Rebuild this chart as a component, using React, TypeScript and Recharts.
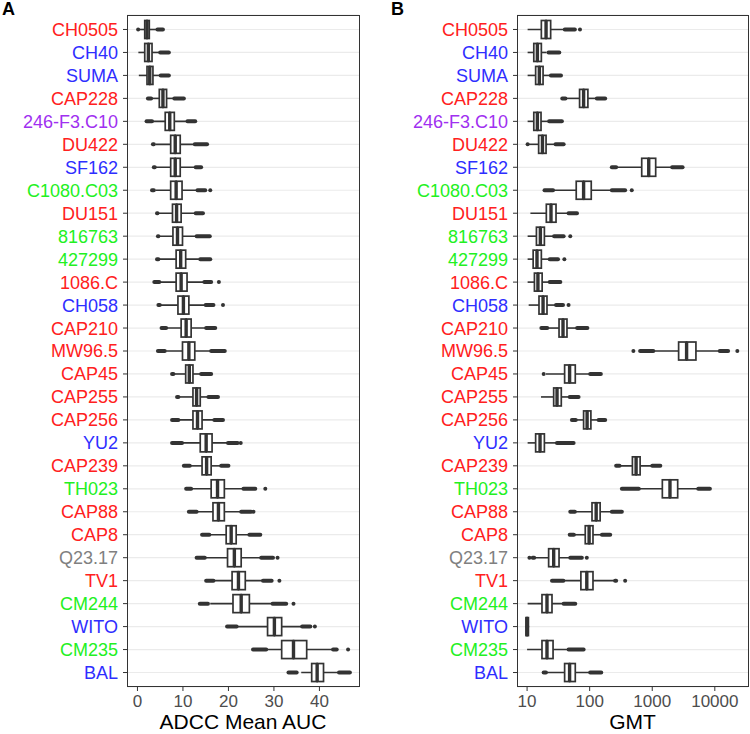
import React from 'react';
import { ComposedChart, Bar, XAxis, YAxis, CartesianGrid } from 'recharts';

// ---------- categories ----------
const names = [
  'CH0505', 'CH40', 'SUMA', 'CAP228', '246-F3.C10', 'DU422', 'SF162', 'C1080.C03', 'DU151', '816763',
  '427299', '1086.C', 'CH058', 'CAP210', 'MW96.5', 'CAP45', 'CAP255', 'CAP256', 'YU2', 'CAP239',
  'TH023', 'CAP88', 'CAP8', 'Q23.17', 'TV1', 'CM244', 'WITO', 'CM235', 'BAL',
];

// ---------- panel A: ADCC Mean AUC ----------
const aLo = [0.4, 0.2, 0.3, 3.2, 3.4, 4.0, 4.0, 4.0, 4.5, 4.7, 4.7, 5.0, 5.0, 6.5, 6.3, 8.0, 9.0, 9.3, 10.0, 11.7, 12.0, 13.3, 16.0, 15.0, 16.5, 16.0, 22.0, 28.5, 36.0];
const aQ1 = [1.6, 1.6, 2.1, 4.8, 6.1, 7.3, 7.3, 7.3, 7.7, 7.8, 8.5, 8.5, 8.9, 9.6, 9.9, 10.6, 12.2, 12.2, 13.8, 14.2, 16.2, 16.6, 19.5, 19.8, 20.8, 21.0, 28.6, 31.7, 38.3];
const aMed = [2.1, 2.4, 2.7, 5.6, 7.1, 8.3, 8.3, 8.5, 8.6, 8.8, 9.5, 9.6, 10.1, 10.7, 11.3, 11.4, 13.0, 13.2, 15.1, 15.2, 17.6, 17.8, 20.6, 21.3, 22.2, 22.8, 30.1, 34.3, 39.5];
const aQ3 = [2.6, 3.2, 3.4, 6.4, 8.1, 9.4, 9.4, 9.8, 9.6, 9.9, 10.6, 10.9, 11.3, 11.8, 12.6, 12.2, 13.8, 14.2, 16.4, 16.2, 19.1, 19.1, 21.7, 22.8, 23.7, 24.6, 31.7, 37.2, 40.9];
const aHi = [4.2, 4.8, 4.9, 7.9, 10.8, 12.3, 12.5, 13.0, 12.5, 12.7, 13.5, 14.5, 14.7, 14.9, 16.0, 13.8, 15.4, 16.7, 19.7, 18.2, 23.0, 22.6, 24.4, 27.0, 27.5, 29.5, 36.0, 42.8, 44.0];
const aLoOut: ([number, number] | null)[] = [
  [0.15, 0.15], null, null, [2.3, 3.0], [2.0, 3.2], [3.4, 3.6], [3.6, 3.8], [3.2, 3.6], [4.3, 4.4], [4.5, 4.6],
  [4.3, 4.6], [3.7, 4.8], [4.6, 4.9], [5.3, 6.3], [4.5, 6.0], [7.6, 7.9], [8.7, 9.0], [7.6, 9.0], [7.6, 9.8], [10.2, 11.5],
  [10.7, 11.8], [11.3, 13.0], [14.2, 15.8], [13.0, 14.8], [15.1, 16.7], [13.7, 15.5], [19.7, 21.8], [25.4, 28.3], [33.2, 35.0],
];
const aHiOut: ([number, number] | null)[] = [
  [4.4, 5.6], [5.0, 6.9], [5.1, 6.9], [8.1, 10.2], [11.0, 12.7], [12.6, 15.3], [12.8, 14.0], [13.2, 14.9], [12.8, 14.4], [13.0, 15.9],
  [13.8, 16.0], [14.7, 16.2], [15.0, 16.7], [15.1, 17.1], [16.2, 19.2], [14.0, 16.2], [15.6, 17.7], [16.9, 18.8], [19.9, 22.0], [18.4, 20.0],
  [23.3, 25.9], [22.8, 25.0], [24.6, 27.0], [27.2, 29.8], [27.6, 29.5], [29.7, 32.7], [36.2, 38.0], [43.0, 43.8], [44.3, 46.7],
];
const aIso: [string, number][] = [
  ['C1080.C03', 16.0], ['1086.C', 17.9], ['CH058', 18.8], ['YU2', 22.7], ['TH023', 28.1], ['CAP88', 25.5],
  ['Q23.17', 30.8], ['TV1', 31.2], ['CM244', 34.3], ['WITO', 39.0], ['CM235', 46.3],
];
const aTicks = [0, 10, 20, 30, 40];

// ---------- panel B: GMT ----------
const bLo = [10.2, 10.2, 10.2, 42, 10.2, 10.5, 270, 25, 11.3, 10.2, 10.2, 10.2, 10.6, 22, 1050, 20, 16.7, 60, 10.2, 300, 620, 58, 58, 13.5, 38, 10.2, 9.4, 10, 20];
const bQ1 = [16.9, 12.8, 13.7, 69, 12.8, 15.3, 679, 61, 20.3, 14.1, 12.5, 13.1, 15.5, 32.4, 2640, 39.8, 26.6, 80, 13.7, 482, 1450, 109, 85, 22.1, 72.4, 17.3, 9.6, 17.3, 39.8];
const bMed = [20.1, 14.6, 15.7, 80, 14.6, 17.6, 879, 80, 24.1, 16.3, 14.4, 14.9, 18.0, 37.5, 3540, 47.8, 30.1, 91, 16.1, 552, 1920, 127, 98, 26.6, 90, 20.8, 10, 20.8, 47.8];
const bQ3 = [23.8, 16.9, 18.0, 93.7, 16.7, 20.1, 1135, 106, 29, 18.9, 16.9, 17.4, 20.8, 43.4, 4990, 58.9, 35.2, 104.6, 18.9, 640, 2550, 147, 113, 32.4, 113, 25, 10.5, 26, 58.9];
const bHi = [38, 20.5, 23, 125, 21.5, 27.5, 2000, 220, 45, 26, 22, 22, 28, 62, 11800, 100, 46, 135, 29, 980, 5300, 220, 155, 48, 250, 37, 10.8, 45, 100];
const bLoOut: ([number, number] | null)[] = [
  null, null, null, [36.5, 41], null, [10.2, 10.2], [226, 265], [19, 26], null, null,
  null, null, null, [16.9, 21], [640, 1040], [18.4, 18.4], null, [52, 60], null, [265, 300],
  [327, 610], [49, 58], [48, 56], [12.3, 13], [25, 38], null, null, null, [18.4, 20],
];
const bHiOut: ([number, number] | null)[] = [
  [40, 58], [22, 32.7], [24, 34.8], [130, 177], [22.5, 36], [28.5, 38.4], [2080, 3055], [226, 369], [46, 62.7], [27, 38.4],
  [23, 31.2], [23, 34], [29, 37.5], [63, 92], [12000, 16300], [102, 151], [48, 66.5], [139, 177], [30, 55.4], [1000, 1346],
  [5430, 8340], [226, 327], [157, 213], [49, 75], [255, 265], [38.4, 58.9], null, [46, 80], [102, 153],
];
const bIso: [string, number][] = [
  ['CH0505', 70], ['C1080.C03', 471], ['816763', 49], ['427299', 39.4], ['CH058', 46], ['MW96.5', 500], ['MW96.5', 22900],
  ['Q23.17', 10.9], ['Q23.17', 90], ['TV1', 369],
];
const bTicks = [10, 100, 1000, 10000];

// ---------- styles ----------
const RED = '#FF2020';
const BLUE = '#2E2EFF';
const GREEN = '#22F022';
const PURPLE = '#A030F0';
const GREY = '#808080';
const LABEL_COLORS: Record<string, string> = {
  CH0505: RED, CH40: BLUE, SUMA: BLUE, CAP228: RED, '246-F3.C10': PURPLE, DU422: RED, SF162: BLUE,
  'C1080.C03': GREEN, DU151: RED, '816763': GREEN, '427299': GREEN, '1086.C': RED, CH058: BLUE,
  CAP210: RED, 'MW96.5': RED, CAP45: RED, CAP255: RED, CAP256: RED, YU2: BLUE, CAP239: RED,
  TH023: GREEN, CAP88: RED, CAP8: RED, 'Q23.17': GREY, TV1: RED, CM244: GREEN, WITO: BLUE, CM235: GREEN, BAL: BLUE,
};
const FONT = '"Liberation Sans", Arial, Helvetica, sans-serif';
const INK = '#333333';
const BOX_H = 18;

function buildRows(lo: number[], q1: number[], med: number[], q3: number[], hi: number[],
  loOut: ([number, number] | null)[], hiOut: ([number, number] | null)[], iso: [string, number][]) {
  return names.map((name, i) => {
    const isoVals = iso.filter((p) => p[0] === name).map((p) => p[1]);
    return {
      name,
      whisk: [lo[i], hi[i]],
      boxL: [q1[i], med[i]],
      boxR: [med[i], q3[i]],
      loOut: loOut[i],
      hiOut: hiOut[i],
      iso1: isoVals.length > 0 ? [isoVals[0], isoVals[0]] : null,
      iso2: isoVals.length > 1 ? [isoVals[1], isoVals[1]] : null,
    };
  });
}

const rowsA = buildRows(aLo, aQ1, aMed, aQ3, aHi, aLoOut, aHiOut, aIso);
const rowsB = buildRows(bLo, bQ1, bMed, bQ3, bHi, bLoOut, bHiOut, bIso);

const ok = (p: any) => p && isFinite(p.x) && isFinite(p.width) && isFinite(p.y) && isFinite(p.height);

const Whisker = (p: any) => {
  if (!ok(p)) return <g />;
  const cy = p.y + p.height / 2;
  return <line x1={p.x} x2={p.x + p.width} y1={cy} y2={cy} stroke={INK} strokeWidth={1.6} />;
};

const makeCluster = (key: string) => (p: any) => {
  if (!ok(p) || !p.payload || !p.payload[key]) return <g />;
  const cy = p.y + p.height / 2;
  const x0 = Math.min(p.x, p.x + p.width);
  const w = Math.abs(p.width);
  return <rect x={x0 - 2} y={cy - 2} width={w + 4} height={4} rx={2} ry={2} fill={INK} />;
};
const LoCluster = makeCluster('loOut');
const HiCluster = makeCluster('hiOut');

const makeIso = (key: string) => (p: any) => {
  if (!ok(p) || !p.payload || !p.payload[key]) return <g />;
  const cy = p.y + p.height / 2;
  return <circle cx={p.x + p.width / 2} cy={cy} r={2} fill={INK} />;
};
const Iso1 = makeIso('iso1');
const Iso2 = makeIso('iso2');

const BoxLeft = (p: any) => {
  if (!ok(p)) return <g />;
  const cy = p.y + p.height / 2;
  return <rect x={p.x} y={cy - BOX_H / 2} width={Math.max(p.width, 0)} height={BOX_H} fill="#FFFFFF" stroke={INK} strokeWidth={1.7} />;
};
const BoxRight = (p: any) => {
  if (!ok(p)) return <g />;
  const cy = p.y + p.height / 2;
  return (
    <g>
      <rect x={p.x} y={cy - BOX_H / 2} width={Math.max(p.width, 0)} height={BOX_H} fill="#FFFFFF" stroke={INK} strokeWidth={1.7} />
      <line x1={p.x} x2={p.x} y1={cy - BOX_H / 2} y2={cy + BOX_H / 2} stroke={INK} strokeWidth={3.4} />
    </g>
  );
};

const YTick = (p: any) => {
  const v = p.payload.value;
  return (
    <text x={p.x} y={p.y} dy="0.36em" textAnchor="end" fontSize={18} fontFamily={FONT} fill={LABEL_COLORS[v] || '#000'}>
      {v}
    </text>
  );
};

const XTick = (p: any) => (
  <text x={p.x} y={p.y} dy="0.72em" textAnchor="middle" fontSize={17} fontFamily={FONT} fill="#4D4D4D">
    {p.payload.value}
  </text>
);

type PanelProps = {
  rows: any[];
  yWidth: number;
  right: number;
  title: string;
  log?: boolean;
  domain: [number, number];
  ticks: number[];
};

const Panel = ({ rows, yWidth, right, title, log, domain, ticks }: PanelProps) => (
  <ComposedChart
    width={375}
    height={734}
    data={rows}
    layout="vertical"
    margin={{ top: 15, right, bottom: 0, left: 0 }}
    barSize={17}
    barGap={-17}
  >
    <CartesianGrid horizontal vertical={false} stroke="#EBEBEB" strokeWidth={1.2} />
    <XAxis
      type="number"
      scale={log ? 'log' : 'linear'}
      domain={domain}
      ticks={ticks}
      allowDataOverflow
      height={47}
      axisLine={false}
      tickSize={4}
      tickMargin={4}
      tickLine={{ stroke: INK, strokeWidth: 1 }}
      tick={<XTick />}
      interval={0}
      label={{ value: title, position: 'insideBottom', offset: 5, fontSize: 21, fontFamily: FONT, fill: '#000' }}
    />
    <YAxis
      type="category"
      dataKey="name"
      width={yWidth}
      axisLine={false}
      tickSize={4}
      tickMargin={5}
      tickLine={{ stroke: INK, strokeWidth: 1 }}
      tick={<YTick />}
      interval={0}
      padding={{ top: 3, bottom: 3 }}
      allowDuplicatedCategory={false}
    />
    <Bar dataKey="whisk" shape={Whisker} isAnimationActive={false} />
    <Bar dataKey="loOut" shape={LoCluster} isAnimationActive={false} />
    <Bar dataKey="hiOut" shape={HiCluster} isAnimationActive={false} />
    <Bar dataKey="iso1" shape={Iso1} isAnimationActive={false} />
    <Bar dataKey="iso2" shape={Iso2} isAnimationActive={false} />
    <Bar dataKey="boxL" shape={BoxLeft} isAnimationActive={false} />
    <Bar dataKey="boxR" shape={BoxRight} isAnimationActive={false} />
  </ComposedChart>
);

const frame = (left: number, width: number): React.CSSProperties => ({
  position: 'absolute',
  left,
  top: 15,
  width,
  height: 672,
  border: `1px solid ${INK}`,
  boxSizing: 'border-box',
  pointerEvents: 'none',
});

const letter = (left: number): React.CSSProperties => ({
  position: 'absolute',
  left,
  top: -1,
  fontFamily: FONT,
  fontWeight: 'bold',
  fontSize: 18,
  lineHeight: '20px',
  color: '#000',
});

export default function App() {
  return (
    <div style={{ position: 'fixed', left: 0, top: 0, width: 750, height: 734, background: '#FFFFFF', overflow: 'hidden' }}>
      <div style={{ position: 'absolute', left: 0, top: 0 }}>
        <Panel rows={rowsA} yWidth={127} right={16} title="ADCC Mean AUC" domain={[-2.3, 48.7]} ticks={aTicks} />
      </div>
      <div style={{ position: 'absolute', left: 375, top: 0 }}>
        <Panel rows={rowsB} yWidth={142} right={2} title="GMT" log domain={[6.9, 33900]} ticks={bTicks} />
      </div>
      <div style={frame(127, 233)} />
      <div style={frame(517, 232)} />
      <div style={letter(2)}>A</div>
      <div style={letter(391)}>B</div>
    </div>
  );
}
